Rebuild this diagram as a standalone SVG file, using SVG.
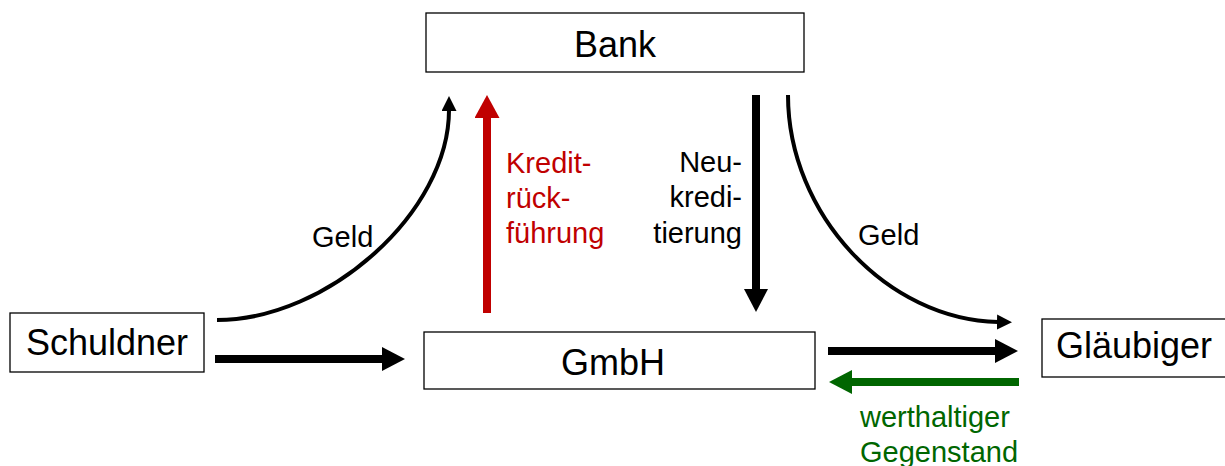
<svg xmlns="http://www.w3.org/2000/svg" width="1225" height="466" viewBox="0 0 1225 466">
<style>
.box{fill:#fff;stroke:#000;stroke-width:1.3}
.nt{font-family:"Liberation Sans",Arial,sans-serif;font-size:36px;fill:#000}
.lb{font-family:"Liberation Sans",Arial,sans-serif;font-size:29px}
.thick{stroke-width:8;fill:none}
.thin{stroke-width:4;fill:none;stroke:#000}
</style>
<defs>
<marker id="hb" markerUnits="userSpaceOnUse" markerWidth="24" markerHeight="24" refX="2" refY="12" orient="auto"><path d="M0,0 L23,12 L0,24 z" fill="#000"/></marker>
<marker id="hr" markerUnits="userSpaceOnUse" markerWidth="26" markerHeight="26" refX="2" refY="12.5" orient="auto"><path d="M0,0 L23,12.5 L0,25 z" fill="#C00000"/></marker>
<marker id="hg" markerUnits="userSpaceOnUse" markerWidth="24" markerHeight="24" refX="2" refY="12" orient="auto"><path d="M0,0 L23,12 L0,24 z" fill="#006600"/></marker>
<marker id="hs" markerUnits="userSpaceOnUse" markerWidth="16" markerHeight="16" refX="1" refY="7.5" orient="auto"><path d="M0,0 L15,7.5 L0,15 z" fill="#000"/></marker>
</defs>
<g id="connectors">
<line class="thick" x1="215" y1="359" x2="384" y2="359" stroke="#000" marker-end="url(#hb)"/>
<line class="thick" x1="487" y1="313" x2="487" y2="116" stroke="#C00000" marker-end="url(#hr)"/>
<line class="thick" x1="756" y1="95" x2="756" y2="291" stroke="#000" marker-end="url(#hb)"/>
<line class="thick" x1="828" y1="351" x2="997" y2="351" stroke="#000" marker-end="url(#hb)"/>
<line class="thick" x1="1019" y1="382" x2="850" y2="382" stroke="#006600" marker-end="url(#hg)"/>
<path class="thin" d="M217,320 C328,320 449,212 449,110" marker-end="url(#hs)"/>
<path class="thin" d="M788,95 C788,215 888,320 998,322" marker-end="url(#hs)"/>
<text class="lb" x="312" y="247" fill="#000">Geld</text>
<text class="lb" x="858" y="245" fill="#000">Geld</text>
<text class="lb" fill="#C00000"><tspan x="506" y="173">Kredit-</tspan><tspan x="506" y="208">rück-</tspan><tspan x="506" y="243">führung</tspan></text>
<text class="lb" fill="#000" text-anchor="end"><tspan x="742" y="172">Neu-</tspan><tspan x="742" y="207">kredi-</tspan><tspan x="742" y="243">tierung</tspan></text>
<text class="lb" fill="#006600"><tspan x="860" y="427">werthaltiger</tspan><tspan x="860" y="462">Gegenstand</tspan></text>
</g>
<g id="bank"><rect class="box" x="426" y="13" width="378" height="59"/><text class="nt" x="615" y="57" text-anchor="middle">Bank</text></g>
<g id="gmbh"><rect class="box" x="424" y="332" width="391" height="57"/><text class="nt" x="613" y="375" text-anchor="middle">GmbH</text></g>
<g id="schuldner"><rect class="box" x="10" y="313" width="194" height="59"/><text class="nt" x="107" y="355" text-anchor="middle">Schuldner</text></g>
<g id="glaeubiger"><rect class="box" x="1042" y="319" width="190" height="58"/><text class="nt" x="1056" y="358">Gläubiger</text></g>
</svg>
